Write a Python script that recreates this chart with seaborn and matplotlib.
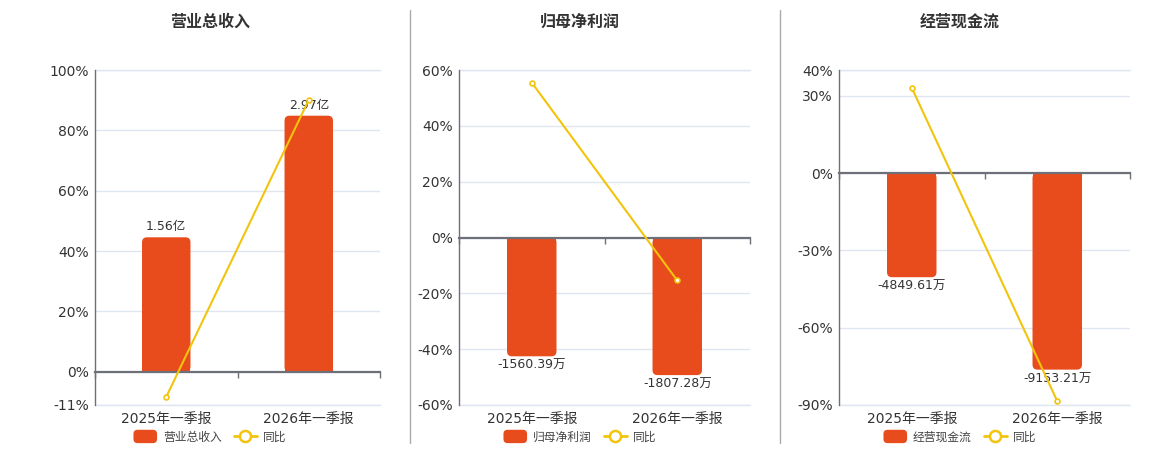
import numpy as np
import matplotlib
matplotlib.use("Agg")
import matplotlib.pyplot as plt
import seaborn as sns
from matplotlib.patches import FancyBboxPatch, Patch
from matplotlib.lines import Line2D
from matplotlib.legend_handler import HandlerPatch
from matplotlib.ticker import FixedLocator

# ---------------- data ----------------
categories = ["2025年一季报", "2026年一季报"]

titles = ["营业总收入", "归母净利润", "经营现金流"]

revenue_values = [1.56, 2.97]          # 亿
revenue_labels = ["1.56亿", "2.97亿"]
revenue_yoy = [-8.3, 90.1]             # %

profit_values = [-1560.39, -1807.28]   # 万
profit_labels = ["-1560.39万", "-1807.28万"]
profit_yoy = [55.5, -15.4]             # %

cash_values = [-4849.61, -9153.21]     # 万
cash_labels = ["-4849.61万", "-9153.21万"]
cash_yoy = [33.1, -88.5]               # %

revenue_ticks = [-11, 0, 20, 40, 60, 80, 100]
profit_ticks = [-60, -40, -20, 0, 20, 40, 60]
cash_ticks = [-90, -60, -30, 0, 30, 40]

yoy_name = "同比"

# ---------------- style ----------------
sns.set_theme(style="white")
plt.rcParams['font.family'] = ['DejaVu Sans', 'Noto Sans CJK SC']
plt.rcParams['axes.unicode_minus'] = False

BAR = "#E84B1C"
LINE = "#F2C40C"
AXIS = "#6E7079"
GRID = "#E0E6F1"
TEXT = "#333333"

W, H = 1160, 450
fig = plt.figure(figsize=(W / 100, H / 100), dpi=100)

panels = [
    dict(values=revenue_values, labels=revenue_labels, yoy=revenue_yoy, ticks=revenue_ticks,
         scale=0.035, left=95, right=380, title_x=210),
    dict(values=profit_values, labels=profit_labels, yoy=profit_yoy, ticks=profit_ticks,
         scale=2200 / 60, left=459, right=750, title_x=580),
    dict(values=cash_values, labels=cash_labels, yoy=cash_yoy, ticks=cash_ticks,
         scale=10800 / 90, left=839, right=1130, title_x=960),
]

top_px, bottom_px = 70, 405


class RoundHandler(HandlerPatch):
    def create_artists(self, legend, orig_handle, xdescent, ydescent, width, height, fontsize, trans):
        p = FancyBboxPatch((-xdescent, -ydescent - 1), width, height + 2,
                           boxstyle="round,pad=0,rounding_size=3",
                           facecolor=orig_handle.get_facecolor(), edgecolor="none",
                           transform=trans)
        return [p]


for i, p in enumerate(panels):
    axw = p["right"] - p["left"]
    axh = bottom_px - top_px
    rect = [p["left"] / W, 1 - bottom_px / H, axw / W, axh / H]
    ax = fig.add_axes(rect)
    axb = ax.twinx()
    axl = ax.twinx()

    pmin, pmax = min(p["ticks"]), max(p["ticks"])
    ylim_pct = (pmin, pmax)
    ylim_bar = (pmin * p["scale"], pmax * p["scale"])

    # bars
    sns.barplot(x=categories, y=p["values"], ax=axb, color=BAR, width=0.34,
                saturation=1, edgecolor="none")
    # line
    sns.pointplot(x=categories, y=p["yoy"], ax=axl, color=LINE, markers="o",
                  linewidth=1.5, markersize=3.5, markeredgewidth=1.2,
                  markerfacecolor="white", markeredgecolor=LINE)

    for a in (ax, axb, axl):
        a.set_xlim(-0.5, 1.5)
        a.set_xlabel("")
        a.set_ylabel("")
        for s in a.spines.values():
            s.set_visible(False)
    ax.set_ylim(*ylim_pct)
    axl.set_ylim(*ylim_pct)
    axb.set_ylim(*ylim_bar)

    # rounded bars (far end rounded, base square)
    xpp = 2 / axw
    ypp = (ylim_bar[1] - ylim_bar[0]) / axh
    r = 5 * xpp
    aspect = ypp / xpp
    bars = list(axb.patches)
    for patch, lab in zip(bars, p["labels"]):
        x0 = patch.get_x()
        bw = patch.get_width()
        h = patch.get_height()
        y0 = min(0, h)
        fb = FancyBboxPatch((x0, y0), bw, abs(h),
                            boxstyle=f"round,pad=0,rounding_size={r}",
                            mutation_aspect=aspect, facecolor=BAR, edgecolor="none")
        axb.add_patch(fb)
        patch.set_height(h / 2)
        if h >= 0:
            axb.annotate(lab, (x0 + bw / 2, h), xytext=(0, 3), textcoords="offset points",
                         ha="center", va="bottom", fontsize=9, color=TEXT)
        else:
            axb.annotate(lab, (x0 + bw / 2, h), xytext=(0, -2), textcoords="offset points",
                         ha="center", va="top", fontsize=9, color=TEXT)

    # grid on bottom axis
    ax.yaxis.set_major_locator(FixedLocator(p["ticks"]))
    ax.grid(axis="y", color=GRID, linewidth=1)
    ax.grid(axis="x", visible=False)
    ax.spines["bottom"].set_visible(True)
    ax.spines["bottom"].set_color(GRID)
    ax.spines["bottom"].set_linewidth(1)
    ax.spines["top"].set_visible(True)
    ax.spines["top"].set_color(GRID)
    ax.spines["top"].set_linewidth(1)
    ax.tick_params(axis="y", left=False, labelleft=False, right=False, labelright=False)
    ax.tick_params(axis="x", bottom=False, labelbottom=True, labelsize=10,
                   labelcolor=TEXT, pad=5, length=0)
    ax.set_xticks([0, 1])
    ax.set_xticklabels(categories)
    ax.xaxis.set_minor_locator(FixedLocator([-0.5, 0.5, 1.5]))
    ax.tick_params(axis="x", which="minor", bottom=False, length=0)

    axb.tick_params(axis="y", left=False, right=False, labelleft=False, labelright=False)
    axb.grid(False)

    # line axis carries the visible axes decorations
    axl.grid(False)
    axl.yaxis.set_ticks_position("left")
    axl.yaxis.set_label_position("left")
    axl.yaxis.set_major_locator(FixedLocator(p["ticks"]))
    axl.set_yticklabels([f"{t}%" for t in p["ticks"]])
    axl.tick_params(axis="y", left=False, right=False, labelleft=True, labelright=False,
                    labelsize=10, labelcolor=TEXT, pad=4.3, length=0)
    axl.spines["left"].set_visible(True)
    axl.spines["left"].set_color(AXIS)
    axl.spines["left"].set_linewidth(1)
    axl.xaxis.set_visible(True)
    axl.spines["bottom"].set_visible(True)
    axl.spines["bottom"].set_position(("data", 0))
    axl.spines["bottom"].set_color(AXIS)
    axl.spines["bottom"].set_linewidth(1.6)
    axl.tick_params(axis="x", which="major", bottom=False, labelbottom=False, length=0)
    axl.tick_params(axis="x", which="minor", bottom=True, length=4, width=1, color=AXIS,
                    direction="out")

    for ln in axl.lines:
        ln.set_zorder(5)

    fig.text(p["title_x"] / W, 1 - 22 / H, titles[i], ha="center", va="center",
             fontsize=11.5, fontweight="bold", color=TEXT)

    handles = [Patch(facecolor=BAR, edgecolor="none"),
               Line2D([], [], color=LINE, linewidth=2, marker="o", markersize=8,
                      markerfacecolor="white", markeredgecolor=LINE, markeredgewidth=1.8)]
    leg = fig.legend(handles, [titles[i], yoy_name], loc="center",
                     bbox_to_anchor=(p["title_x"] / W, 1 - 437 / H), ncol=2, frameon=False,
                     fontsize=8.5, handlelength=2.0, handleheight=1.0, handletextpad=0.5,
                     columnspacing=1.0, borderaxespad=0, borderpad=0,
                     handler_map={Patch: RoundHandler()})
    for t in leg.get_texts():
        t.set_color("#444444")

# separators
for xs in (410, 780):
    fig.add_artist(Line2D([xs / W, xs / W], [1 - 443 / H, 1 - 10 / H], color="#AAAAAA",
                          linewidth=1, transform=fig.transFigure))

fig.savefig("out.png", dpi=100)
